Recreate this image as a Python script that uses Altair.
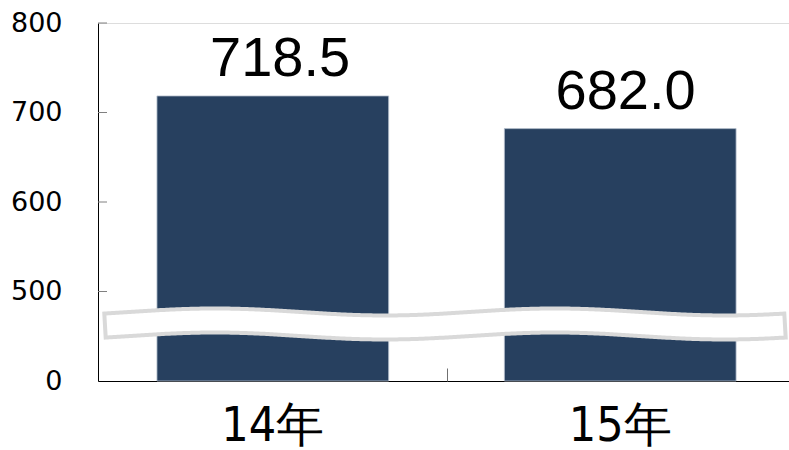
import altair as alt
import pandas as pd

# ---- data ----
categories = ["14年", "15年"]
values = [718.5, 682.0]
value_labels = ["718.5", "682.0"]
y_tick_values = [500, 600, 700, 800]
axis_floor = 400          # the broken axis: this position is labelled "0"

df = pd.DataFrame({"cat": categories, "v": values, "label": value_labels})

W, H = 691, 358
P_IN, P_OUT, ALIGN = 0.333, 0.161, 0.527
STEP = W / (len(categories) - P_IN + 2 * P_OUT)
xscale = alt.Scale(paddingInner=P_IN, paddingOuter=P_OUT, align=ALIGN)
yscale = alt.Scale(domain=[axis_floor, 800], zero=False, nice=False)
NARROW = "DejaVu Sans Condensed, sans-serif"

bars = alt.Chart(df).mark_bar(color="#27405F", stroke="#b8c2cf", strokeWidth=0.8).encode(
    x=alt.X("cat:N", sort=categories, scale=xscale,
            axis=alt.Axis(title=None, labelAngle=0, ticks=False, domainColor="black",
                          domainWidth=1, labelFont=NARROW, labelFontSize=48,
                          labelPadding=21, labelColor="black")),
    y=alt.Y("v:Q", scale=yscale,
            axis=alt.Axis(values=[axis_floor] + y_tick_values,
                          labelExpr=f"datum.value == {axis_floor} ? '0' : datum.label",
                          ticks=False, grid=False, title=None, domainColor="black",
                          domainWidth=1, labelFont="DejaVu Sans, sans-serif",
                          labelFontSize=27, labelPadding=36, labelColor="black")),
    y2=alt.datum(axis_floor),
)

text = alt.Chart(df).mark_text(font="Liberation Sans, Arial, sans-serif", fontSize=56,
                               baseline="alphabetic", dy=-20, color="black").encode(
    x=alt.X("cat:N", sort=categories, scale=xscale, axis=None),
    y=alt.Y("v:Q", title=None),
    text="label:N",
)

yticks = alt.Chart(pd.DataFrame({"t": y_tick_values})).mark_rule(color="#808080").encode(
    y=alt.Y("t:Q", title=None), x=alt.value(0), x2=alt.value(9))

# inward separator tick between the categories: a top-oriented axis moved onto the bottom edge
xtick = alt.Chart(df).mark_bar(opacity=0).encode(
    x=alt.X("cat:N", sort=categories, scale=xscale,
            axis=alt.Axis(orient="top", offset=-H, values=categories[1:], labels=False,
                          domain=False, ticks=True, tickSize=13, tickColor="#707070",
                          tickWidth=1, tickOffset=-STEP / 2, title=None, grid=False)),
    y=alt.Y("v:Q", title=None), y2=alt.datum(axis_floor))

# decorative wavy "axis break" band
wave = alt.Chart(alt.sequence(5, 690, 2, as_="t")).transform_calculate(
    w="463.7 + 3.9*cos(2*PI*(datum.t - 117)/340)")
wx = alt.X("t:Q", scale=alt.Scale(domain=[0, W], nice=False, zero=False), axis=None)
wy = alt.Y("w:Q", title=None)
break_gray = wave.mark_line(color="#d9d9d9", strokeWidth=28, strokeCap="butt",
                            strokeJoin="round").encode(x=wx, y=wy)
break_white = wave.transform_filter("datum.t >= 9 && datum.t <= 685").mark_line(
    color="white", strokeWidth=20, strokeCap="butt", strokeJoin="round").encode(x=wx, y=wy)

chart = alt.layer(bars, yticks, xtick, break_gray, break_white, text).resolve_scale(
    x="independent"
).properties(
    width=W, height=H,
    autosize=alt.AutoSizeParams(type="none"),
    padding={"left": 98, "top": 23, "right": 0, "bottom": 69},
).configure_view(stroke=None).configure(background="white")

chart.save("out.html", embed_options={"renderer": "svg", "actions": False})
